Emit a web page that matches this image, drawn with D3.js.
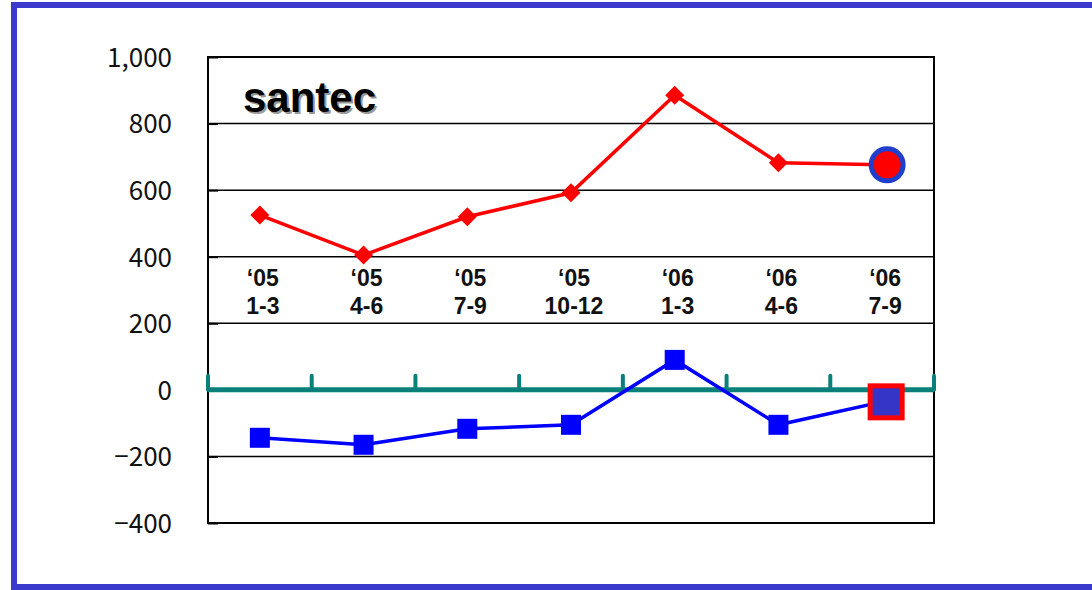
<!DOCTYPE html>
<html><head><meta charset="utf-8">
<script src="https://cdn.jsdelivr.net/npm/d3@7"></script>
<style>html,body{margin:0;padding:0;background:#fff;overflow:hidden}</style>
</head><body>
<script>
const categories = ["'05|1-3","'05|4-6","'05|7-9","'05|10-12","'06|1-3","'06|4-6","'06|7-9"];
const salesValues = [525, 405, 520, 592, 885, 682, 676];
const profitValues = [-144, -165, -117, -105, 90, -105, -36];
const yTicks = [-400, -200, 0, 200, 400, 600, 800, 1000];
const title = "santec";

const W = 1092, H = 590;
const svg = d3.select("body").append("svg").attr("width", W).attr("height", H);

// outer frame
svg.append("rect").attr("x", 14).attr("y", 5).attr("width", 1200).attr("height", 582)
  .attr("fill", "none").attr("stroke", "#3a3acc").attr("stroke-width", 6);

const L = 208, R = 934, T = 57, B = 523;
const x = d3.scaleBand().domain(categories).range([L, R]).padding(0);
const y = d3.scaleLinear().domain([-400, 1000]).range([B, T]);

// gridlines
svg.append("g").selectAll("line").data(yTicks.filter(d => d !== 0 && d !== -400 && d !== 1000))
  .join("line").attr("x1", L).attr("x2", R).attr("y1", d => y(d)).attr("y2", d => y(d))
  .attr("stroke", "#000").attr("stroke-width", 1.5);
// frame
svg.append("rect").attr("x", L).attr("y", T).attr("width", R - L).attr("height", B - T)
  .attr("fill", "none").attr("stroke", "#000").attr("stroke-width", 2);

// y axis labels
const yAxis = d3.axisLeft(y).tickValues(yTicks).tickSize(-10).tickPadding(36)
  .tickFormat(d => d < 0 ? "\u2212" + d3.format(",")(-d) : d3.format(",")(d));
const ya = svg.append("g").attr("transform", `translate(${L},0)`).call(yAxis);
ya.select(".domain").remove();
ya.selectAll(".tick line").attr("stroke", "#000").attr("stroke-width", 2);
ya.selectAll(".tick text").attr("font-family", "'Noto Sans CJK JP', 'DejaVu Sans', sans-serif")
  .attr("font-size", 26).attr("fill", "#111").attr("dy", "0.36em");

// zero axis (teal) with ticks at band boundaries
const bounds = categories.map(c => x(c)).concat([R]);
svg.append("line").attr("x1", L).attr("x2", R).attr("y1", y(0)).attr("y2", y(0))
  .attr("stroke", "#0b7f7a").attr("stroke-width", 5);
svg.append("g").selectAll("line").data(bounds).join("line")
  .attr("x1", d => d).attr("x2", d => d).attr("y1", y(0)).attr("y2", y(0) - 14)
  .attr("stroke", "#0b7f7a").attr("stroke-width", 4).attr("stroke-linecap", "round");

// category labels
const cx = c => x(c) + x.bandwidth() / 2;
const lab = svg.append("g").selectAll("text").data(categories).join("text")
  .attr("x", d => cx(d) + 3).attr("y", y(400) + 29)
  .attr("text-anchor", "middle").attr("font-family", "'Liberation Sans', Arial, sans-serif")
  .attr("font-weight", "bold").attr("font-size", 23).attr("fill", "#111");
lab.append("tspan").attr("x", d => cx(d) + 3).text(d => d.split("|")[0].replace("'", "\u2018"));
lab.append("tspan").attr("x", d => cx(d) + 3).attr("dy", 28).text(d => d.split("|")[1]);

// title with shadow
svg.append("text").attr("x", 245).attr("y", 114).text(title)
  .attr("font-family", "'Liberation Sans', Arial, sans-serif").attr("font-weight", "bold")
  .attr("font-size", 42).attr("fill", "#999");
svg.append("text").attr("x", 243).attr("y", 112).text(title)
  .attr("font-family", "'Liberation Sans', Arial, sans-serif").attr("font-weight", "bold")
  .attr("font-size", 42).attr("fill", "#000");

// sales line
const line = d3.line().x((d, i) => cx(categories[i])).y(d => y(d));
svg.append("path").datum(salesValues).attr("d", line).attr("fill", "none")
  .attr("stroke", "#ff0000").attr("stroke-width", 3.5);
svg.append("g").selectAll("path").data(salesValues.slice(0, -1)).join("path")
  .attr("d", d3.symbol().type(d3.symbolDiamond2).size(230))
  .attr("transform", (d, i) => `translate(${cx(categories[i])},${y(d)})`)
  .attr("fill", "#ff0000");
const lastI = salesValues.length - 1;
svg.append("circle").attr("cx", cx(categories[lastI]) + 5).attr("cy", y(salesValues[lastI]))
  .attr("r", 16).attr("fill", "#ff0000").attr("stroke", "#1f3fcc").attr("stroke-width", 5);

// profit line
svg.append("path").datum(profitValues).attr("d", line).attr("fill", "none")
  .attr("stroke", "#0000ff").attr("stroke-width", 3.5);
svg.append("g").selectAll("rect").data(profitValues.slice(0, -1)).join("rect")
  .attr("x", (d, i) => cx(categories[i]) - 10).attr("y", d => y(d) - 10)
  .attr("width", 20).attr("height", 20).attr("fill", "#0000ff");
const pl = profitValues.length - 1;
svg.append("rect").attr("x", cx(categories[pl]) + 4 - 16).attr("y", y(profitValues[pl]) - 16)
  .attr("width", 32).attr("height", 32).attr("fill", "#3535c8")
  .attr("stroke", "#ff0000").attr("stroke-width", 5);
</script>
</body></html>
